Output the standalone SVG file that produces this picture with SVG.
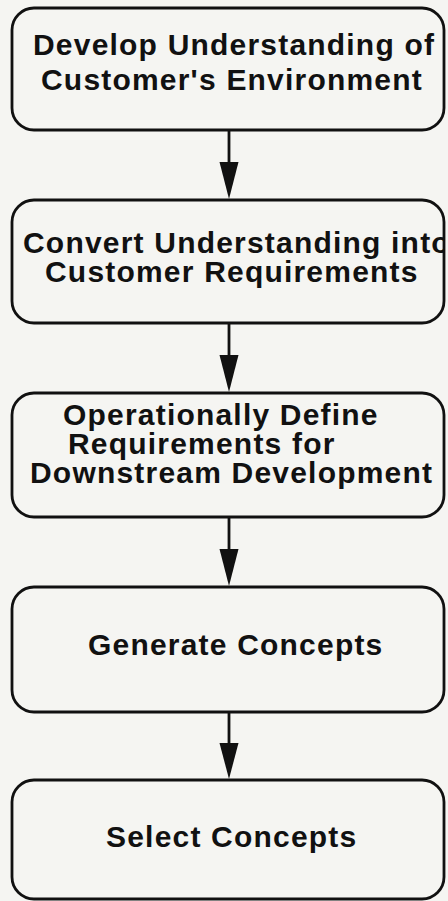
<svg xmlns="http://www.w3.org/2000/svg" width="448" height="901" viewBox="0 0 448 901">
<style>
.box{fill:none;stroke:#111;stroke-width:2.8}
.t{font-family:"Liberation Sans",Arial,sans-serif;font-weight:bold;font-size:30px;letter-spacing:1.2px;fill:#111}
.c{stroke:#111;stroke-width:2.8;fill:none}
.h{fill:#111}
</style>
<defs>
<clipPath id="clip2"><rect x="13" y="201" width="430" height="121" rx="20"/></clipPath>
</defs>
<rect width="448" height="901" fill="#f5f5f2"/>
<g id="connectors">
<line class="c" x1="229" y1="131" x2="229" y2="165"/>
<polygon class="h" points="219.5,162 238.5,162 229,199"/>
<line class="c" x1="229" y1="324" x2="229" y2="358"/>
<polygon class="h" points="219.5,355 238.5,355 229,392"/>
<line class="c" x1="229" y1="518" x2="229" y2="552"/>
<polygon class="h" points="219.5,549 238.5,549 229,586"/>
<line class="c" x1="229" y1="713" x2="229" y2="746"/>
<polygon class="h" points="219.5,743 238.5,743 229,779"/>
</g>
<g id="n1">
<rect class="box" x="12" y="8" width="432" height="122" rx="22"/>
<text class="t" x="33" y="55">Develop Understanding of</text>
<text class="t" x="41" y="90">Customer's Environment</text>
</g>
<g id="n2">
<g clip-path="url(#clip2)">
<text class="t" x="23" y="253">Convert Understanding into</text>
<text class="t" x="45" y="282">Customer Requirements</text>
</g>
<rect class="box" x="12" y="200" width="432" height="123" rx="22"/>
</g>
<g id="n3">
<rect class="box" x="12" y="393" width="432" height="124" rx="22"/>
<text class="t" x="63" y="425">Operationally Define</text>
<text class="t" x="68" y="454">Requirements for</text>
<text class="t" x="30" y="483">Downstream Development</text>
</g>
<g id="n4">
<rect class="box" x="12" y="587" width="432" height="125" rx="22"/>
<text class="t" x="88" y="655">Generate Concepts</text>
</g>
<g id="n5">
<rect class="box" x="12" y="780" width="432" height="119" rx="22"/>
<text class="t" x="106" y="847">Select Concepts</text>
</g>
</svg>
